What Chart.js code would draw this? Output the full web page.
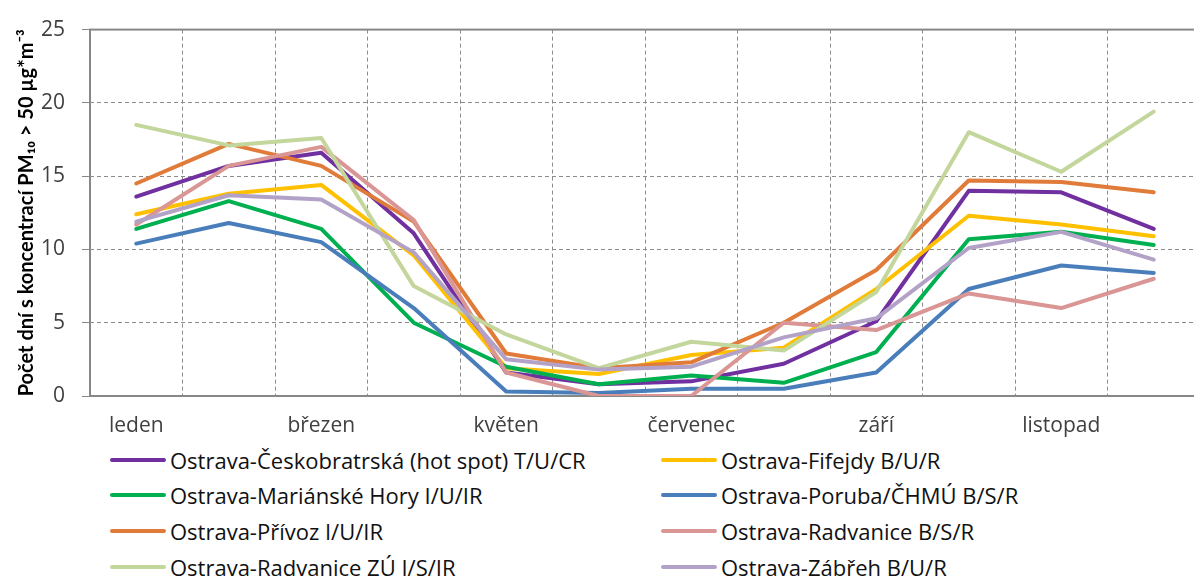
<!DOCTYPE html>
<html>
<head>
<meta charset="utf-8">
<script src="https://cdn.jsdelivr.net/npm/chart.js@4"></script>
<style>
  body { margin: 0; width: 1194px; height: 577px; overflow: hidden; background: #fff; }
  #wrap { position: absolute; left: 0; top: 0; width: 1200px; height: 440px; }
  #legend {
    position: absolute; left: 110px; top: 442px;
    display: grid; grid-template-columns: 551px 500px; grid-auto-rows: 35.6px;
    font-family: "Open Sans", sans-serif; font-size: 22px; color: #111;
  }
  .item { display: flex; align-items: center; white-space: nowrap; }
  .swatch { width: 56px; height: 4px; border-radius: 2px; margin-right: 4px; }
</style>
</head>
<body>
<div id="wrap"><canvas id="myChart" width="1200" height="440"></canvas></div>
<div id="legend"></div>
<script>
// months (only every other one is labelled on the axis)
const months = ["leden", "únor", "březen", "duben", "květen", "červen",
  "červenec", "srpen", "září", "říjen", "listopad", "prosinec"];

// number of days with PM10 > 50 per month, per station
const ceskobratrska = [13.6, 15.7, 16.6, 11.1, 1.6, 0.8, 1.0, 2.2, 5.1, 14.0, 13.9, 11.4];
const fifejdy = [12.4, 13.8, 14.4, 9.6, 1.9, 1.5, 2.8, 3.3, 7.3, 12.3, 11.7, 10.9];
const marianskeHory = [11.4, 13.3, 11.4, 5.0, 2.0, 0.8, 1.4, 0.9, 3.0, 10.7, 11.2, 10.3];
const poruba = [10.4, 11.8, 10.5, 6.0, 0.3, 0.2, 0.5, 0.5, 1.6, 7.3, 8.9, 8.4];
const privoz = [14.5, 17.2, 15.7, 11.9, 2.9, 1.9, 2.3, 5.0, 8.6, 14.7, 14.6, 13.9];
const radvanice = [11.7, 15.7, 17.0, 12.0, 1.6, 0, 0, 5.0, 4.5, 7.0, 6.0, 8.0];
const radvaniceZU = [18.5, 17.1, 17.6, 7.5, 4.2, 1.9, 3.7, 3.1, 7.1, 18.0, 15.3, 19.4];
const zabreh = [11.9, 13.7, 13.4, 9.8, 2.5, 1.8, 2.0, 4.0, 5.3, 10.1, 11.2, 9.3];

const stations = [
  ["Ostrava-Českobratrská (hot spot) T/U/CR", ceskobratrska, "#7030A0"],
  ["Ostrava-Fifejdy B/U/R", fifejdy, "#FFC000"],
  ["Ostrava-Mariánské Hory I/U/IR", marianskeHory, "#00B050"],
  ["Ostrava-Poruba/ČHMÚ B/S/R", poruba, "#4A7EBB"],
  ["Ostrava-Přívoz I/U/IR", privoz, "#E07B39"],
  ["Ostrava-Radvanice B/S/R", radvanice, "#D99694"],
  ["Ostrava-Radvanice ZÚ I/S/IR", radvaniceZU, "#C3D69B"],
  ["Ostrava-Zábřeh B/U/R", zabreh, "#B3A2C7"]
];

const datasets = stations.map(function (s, i) {
  return {
    label: s[0],
    data: s[1],
    borderColor: s[2],
    backgroundColor: s[2],
    borderWidth: 4,
    borderJoinStyle: "round",
    borderCapStyle: "round",
    pointRadius: 0,
    tension: 0,
    order: stations.length - i
  };
});

// plot frame (top, left, bottom)
const frame = {
  id: "frame",
  beforeDatasetsDraw(chart) {
    const a = chart.chartArea;
    const ctx = chart.ctx;
    ctx.save();
    ctx.strokeStyle = "#878787";
    ctx.lineWidth = 2;
    ctx.strokeRect(a.left, a.top, a.right - a.left, a.bottom - a.top);
    ctx.restore();
  }
};

const config = {
  type: "line",
  data: { labels: months, datasets: datasets },
  options: {
    responsive: false,
    animation: false,
    layout: { padding: { top: 24, right: 0, bottom: 0, left: 0 } },
    scales: {
      x: {
        offset: true,
        grid: { offset: true, color: "#8c8c8c", lineWidth: 1, drawTicks: false },
        border: { display: false, dash: [4, 3] },
        ticks: {
          autoSkip: false,
          maxRotation: 0,
          padding: 17,
          color: "#404040",
          font: { family: "Open Sans", size: 21 },
          callback: function (val, i) {
            return i % 2 === 0 ? months[i] : "";
          }
        },
        afterFit: function (scale) { scale.height = 44; }
      },
      y: {
        min: 0,
        max: 25,
        ticks: {
          stepSize: 5,
          padding: 17,
          color: "#404040",
          font: { family: "Open Sans", size: 21 }
        },
        grid: {
          color: "#8c8c8c", lineWidth: 1, tickLength: 8,
          tickColor: "#878787", tickBorderDash: []
        },
        border: { display: false, dash: [4, 3] },
        title: {
          display: true,
          text: "Počet dní s koncentrací PM₁₀ > 50 µg*m⁻³",
          color: "#000",
          padding: { top: 15, bottom: 0 },
          font: { family: "Lato", size: 20, weight: "bold" }
        },
        afterFit: function (scale) { scale.width = 90; }
      }
    },
    plugins: {
      legend: { display: false },
      tooltip: { enabled: false }
    }
  },
  plugins: [frame]
};

const myChart = new Chart(document.getElementById("myChart"), config);

// legend in two columns
const legendEl = document.getElementById("legend");
myChart.data.datasets.forEach(function (ds) {
  const item = document.createElement("div");
  item.className = "item";
  const sw = document.createElement("span");
  sw.className = "swatch";
  sw.style.background = ds.borderColor;
  const txt = document.createElement("span");
  txt.textContent = ds.label;
  item.appendChild(sw);
  item.appendChild(txt);
  legendEl.appendChild(item);
});
</script>
</body>
</html>
